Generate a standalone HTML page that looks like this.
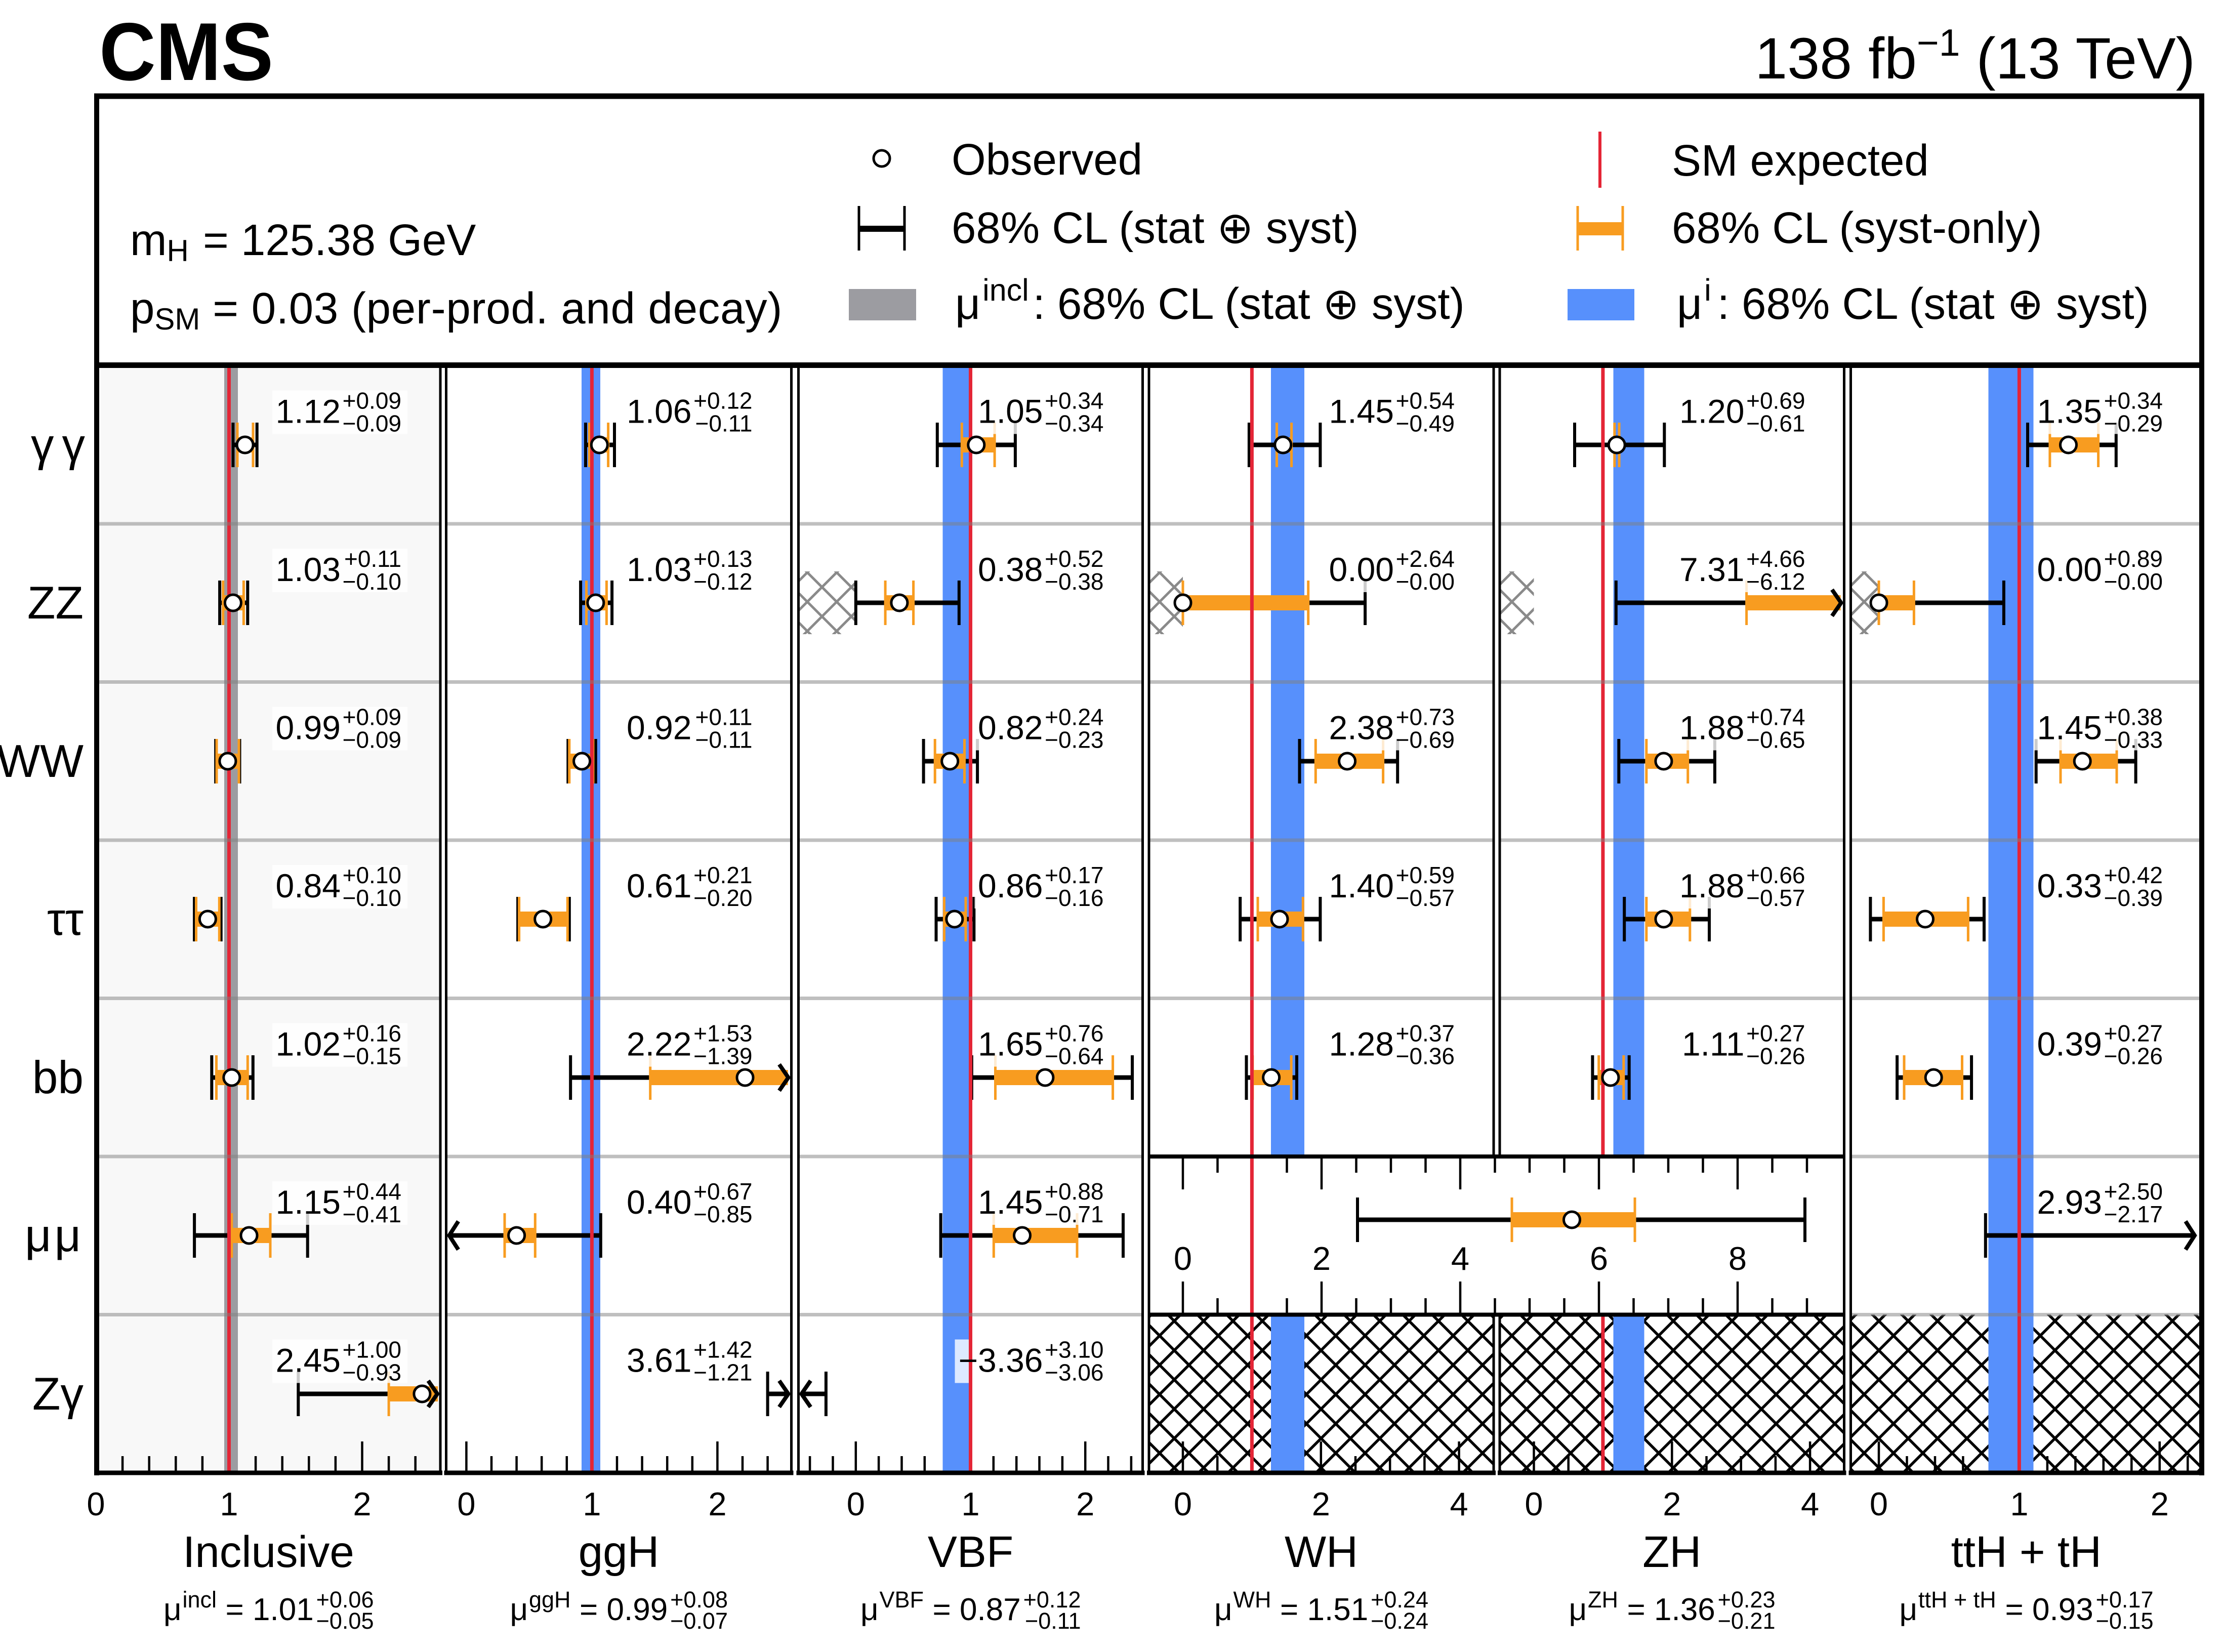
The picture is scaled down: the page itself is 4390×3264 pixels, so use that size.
<!DOCTYPE html>
<html><head><meta charset="utf-8">
<style>
html,body{margin:0;padding:0;background:#fff}
svg{display:block}
text{font-family:"Liberation Sans","DejaVu Sans",sans-serif;fill:#000}
.kl{stroke:#000;stroke-width:9;fill:none}
.kc{stroke:#000;stroke-width:6;fill:none}
.oc{stroke:#f89c20;stroke-width:5;fill:none}
.ob{fill:#f89c20}
.pt{fill:#fff;stroke:#000;stroke-width:5}
.ar{fill:none;stroke:#000;stroke-width:8}
.lb{fill:#fff;fill-opacity:.8}
.tk{stroke:#000;stroke-width:4.5;fill:none}
.sep{stroke:#808080;stroke-opacity:.5;stroke-width:7;fill:none}
.red{stroke:#e42536;stroke-width:7}
.lm{font-size:66px;text-anchor:end}
.ls{font-size:46px;text-anchor:end}
.tl{font-size:65px;text-anchor:middle}
.tt{font-size:87px;text-anchor:middle}
.ya{font-size:91px;text-anchor:end}
.mu{font-size:62px}
.ms{font-size:45px}
.mse{font-size:45px;text-anchor:end}
</style></head><body>
<svg xmlns="http://www.w3.org/2000/svg" width="4390" height="3264" viewBox="0 0 4390 3264">
<defs>
<pattern id="hg" width="58" height="58" patternUnits="userSpaceOnUse">
<path d="M-5,-5L63,63M-5,53L5,63M53,-5L63,5M-5,63L63,-5M-5,5L5,-5M53,63L63,53" stroke="#8a8a8a" stroke-width="5" fill="none"/>
</pattern>
<pattern id="hk" width="58" height="58" patternUnits="userSpaceOnUse">
<path d="M-5,-5L63,63M-5,53L5,63M53,-5L63,5M-5,63L63,-5M-5,5L5,-5M53,63L63,53" stroke="#000" stroke-width="5.5" fill="none"/>
</pattern>
</defs>
<rect x="0" y="0" width="4390" height="3264" fill="#fff"/>
<!-- inclusive background -->
<rect x="191" y="722.5" width="679" height="2187.5" fill="#f8f8f8"/>

<!-- bottom axis ticks -->
<path class="tk" d="
M242.1 2906V2877M294.7 2906V2877M347.3 2906V2877M399.9 2906V2877M505.1 2906V2877M557.7 2906V2877M610.3 2906V2877M662.9 2906V2877M768.1 2906V2877M820.7 2906V2877M452.5 2906V2848M715.5 2906V2848
M971 2906V2877M1020.6 2906V2877M1070.2 2906V2877M1119.8 2906V2877M1219 2906V2877M1268.6 2906V2877M1318.2 2906V2877M1367.8 2906V2877M1467 2906V2877M1516.6 2906V2877M921.4 2906V2848M1169.4 2906V2848M1417.4 2906V2848
M1600.1 2906V2877M1645.5 2906V2877M1736.1 2906V2877M1781.5 2906V2877M1826.8 2906V2877M1872.2 2906V2877M1962.8 2906V2877M2008.2 2906V2877M2053.5 2906V2877M2098.9 2906V2877M2189.5 2906V2877M2234.9 2906V2877M1690.8 2906V2848M1917.5 2906V2848M2144.2 2906V2848
M2405.2 2906V2877M2473.4 2906V2877M2541.6 2906V2877M2678 2906V2877M2746.2 2906V2877M2814.4 2906V2877M2337 2906V2848M2609.8 2906V2848M2882.6 2906V2848
M3098.7 2906V2877M3166.9 2906V2877M3235.1 2906V2877M3371.5 2906V2877M3439.7 2906V2877M3507.9 2906V2877M3030.5 2906V2848M3303.3 2906V2848M3576.1 2906V2848
M3767.5 2906V2877M3823 2906V2877M3878.4 2906V2877M3933.9 2906V2877M4044.9 2906V2877M4100.4 2906V2877M4155.8 2906V2877M4211.3 2906V2877M4322.3 2906V2877M3712 2906V2848M3989.4 2906V2848M4266.8 2906V2848
"/>
<!-- merged VH mumu panel ticks -->
<path class="tk" d="
M2337 2289V2350M2611 2289V2350M2885 2289V2350M3159 2289V2350M3433 2289V2350
M2405.5 2289V2317M2474 2289V2317M2542.5 2289V2317M2679.5 2289V2317M2748 2289V2317M2816.5 2289V2317M2953.5 2289V2317M3022 2289V2317M3090.5 2289V2317M3227.5 2289V2317M3296 2289V2317M3364.5 2289V2317M3501.5 2289V2317M3570 2289V2317
M2337 2594V2532M2611 2594V2532M2885 2594V2532M3159 2594V2532M3433 2594V2532
M2405.5 2594V2565M2474 2594V2565M2542.5 2594V2565M2679.5 2594V2565M2748 2594V2565M2816.5 2594V2565M2953.5 2594V2565M3022 2594V2565M3090.5 2594V2565M3227.5 2594V2565M3296 2594V2565M3364.5 2594V2565M3501.5 2594V2565M3570 2594V2565
"/>

<!-- hatches -->
<rect x="1577.5" y="1129" width="113.3" height="124" fill="url(#hg)"/>
<rect x="2270" y="1129" width="67" height="124" fill="url(#hg)"/>
<rect x="2963" y="1129" width="67.5" height="124" fill="url(#hg)"/>
<rect x="3656.5" y="1129" width="55.5" height="124" fill="url(#hg)"/>
<rect x="2270" y="2597.5" width="681" height="312.5" fill="url(#hk)"/>
<rect x="2963" y="2597.5" width="680.5" height="312.5" fill="url(#hk)"/>
<rect x="3656.5" y="2597.5" width="693.5" height="312.5" fill="url(#hk)"/>

<!-- bands -->
<rect x="443" y="722.5" width="27" height="2187.5" fill="#9c9ca1"/>
<rect x="1149" y="722.5" width="37" height="2187.5" fill="#5790fc"/>
<rect x="1862.5" y="722.5" width="52" height="2187.5" fill="#5790fc"/>
<rect x="2511" y="722.5" width="66" height="1562.5" fill="#5790fc"/>
<rect x="2511" y="2597.5" width="66" height="312.5" fill="#5790fc"/>
<rect x="3187.5" y="722.5" width="61" height="1562.5" fill="#5790fc"/>
<rect x="3187.5" y="2597.5" width="61" height="312.5" fill="#5790fc"/>
<rect x="3928.5" y="722.5" width="89" height="2187.5" fill="#5790fc"/>

<!-- ===== error bars ===== -->
<!-- Inclusive -->
<path class="kl" d="M460.4 879H507.7M434.1 1191H489.3M426.2 1504H473.5M384.1 1816H436.7M418.3 2129H499.8M384.1 2441H607.7M589.3 2754H862"/>
<path class="kc" d="M460.4 835V923M507.7 835V923M434.1 1147V1235M489.3 1147V1235M426.2 1460V1548M473.5 1460V1548M384.1 1772V1860M436.7 1772V1860M418.3 2085V2173M499.8 2085V2173M384.1 2397V2485M607.7 2397V2485M589.3 2710V2798"/>
<rect class="ob" x="469" y="864" width="31" height="30"/>
<rect class="ob" x="440.7" y="1176" width="40.7" height="30"/>
<rect class="ob" x="428" y="1489" width="44" height="30"/>
<rect class="ob" x="387.5" y="1801" width="45.8" height="30"/>
<rect class="ob" x="427.5" y="2114" width="61.8" height="30"/>
<rect class="ob" x="457.8" y="2426" width="76.2" height="30"/>
<rect class="ob" x="768.1" y="2739" width="97" height="30"/>
<path class="oc" d="M469 835V923M500 835V923M440.7 1147V1235M481.4 1147V1235M428 1460V1548M472 1460V1548M387.5 1772V1860M433.3 1772V1860M427.5 2085V2173M489.3 2085V2173M457.8 2397V2485M534 2397V2485M768.1 2710V2798"/>
<polyline class="ar" points="846,2728 864,2754 846,2780"/>

<!-- ggH -->
<path class="kl" d="M1157 879H1214M1147.1 1191H1209.1M1122.3 1504H1176.8M1023.1 1816H1124.8M1127.2 2129H1556M888 2441H1186.8M1516.6 2754H1556"/>
<path class="kc" d="M1157 835V923M1214 835V923M1147.1 1147V1235M1209.1 1147V1235M1122.3 1460V1548M1176.8 1460V1548M1023.1 1772V1860M1124.8 1772V1860M1127.2 2085V2173M1186.8 2397V2485M1516.6 2710V2798"/>
<rect class="ob" x="1164.4" y="864" width="37.2" height="30"/>
<rect class="ob" x="1158.5" y="1176" width="39.9" height="30"/>
<rect class="ob" x="1124.8" y="1489" width="47.1" height="30"/>
<rect class="ob" x="1025.6" y="1801" width="95.7" height="30"/>
<rect class="ob" x="1284.7" y="2114" width="272" height="30"/>
<rect class="ob" x="997" y="2426" width="60.3" height="30"/>
<path class="oc" d="M1164.4 835V923M1201.6 835V923M1158.5 1147V1235M1198.4 1147V1235M1124.8 1460V1548M1171.9 1460V1548M1025.6 1772V1860M1121.3 1772V1860M1284.7 2085V2173M997 2397V2485M1057.3 2397V2485"/>
<polyline class="ar" points="1539.5,2103 1557.5,2129 1539.5,2155"/>
<polyline class="ar" points="1539.5,2728 1557.5,2754 1539.5,2780"/>
<polyline class="ar" points="905.5,2413 887.5,2441 905.5,2469"/>

<!-- VBF -->
<path class="kl" d="M1851.8 879H2005.9M1690.8 1191H1894.8M1824.6 1504H1931.1M1849.5 1816H1924.3M1919.8 2129H2237.1M1858.6 2441H2219M1584 2754H1631.9"/>
<path class="kc" d="M1851.8 835V923M2005.9 835V923M1690.8 1147V1235M1894.8 1147V1235M1824.6 1460V1548M1931.1 1460V1548M1849.5 1772V1860M1924.3 1772V1860M1919.8 2085V2173M2237.1 2085V2173M1858.6 2397V2485M2219 2397V2485M1631.9 2710V2798"/>
<rect class="ob" x="1900.3" y="864" width="64.8" height="30"/>
<rect class="ob" x="1749.1" y="1176" width="55.5" height="30"/>
<rect class="ob" x="1847.2" y="1489" width="58.3" height="30"/>
<rect class="ob" x="1865.4" y="1801" width="42.6" height="30"/>
<rect class="ob" x="1966.5" y="2114" width="232.1" height="30"/>
<rect class="ob" x="1963.3" y="2426" width="164.7" height="30"/>
<path class="oc" d="M1900.3 835V923M1965.1 835V923M1749.1 1147V1235M1804.6 1147V1235M1847.2 1460V1548M1905.5 1460V1548M1865.4 1772V1860M1908 1772V1860M1966.5 2085V2173M2198.6 2085V2173M1963.3 2397V2485M2128 2397V2485"/>
<polyline class="ar" points="1601.5,2728 1583.5,2754 1601.5,2780"/>

<!-- WH -->
<path class="kl" d="M2467.9 879H2608.4M2337 1191H2697.1M2567.5 1504H2761.2M2450.2 1816H2608.4M2462.5 2129H2562"/>
<path class="kc" d="M2467.9 835V923M2608.4 835V923M2697.1 1147V1235M2567.5 1460V1548M2761.2 1460V1548M2450.2 1772V1860M2608.4 1772V1860M2462.5 2085V2173M2562 2085V2173"/>
<rect class="ob" x="2522.5" y="864" width="29.1" height="30"/>
<rect class="ob" x="2337" y="1176" width="247.7" height="30"/>
<rect class="ob" x="2599.3" y="1489" width="133.3" height="30"/>
<rect class="ob" x="2485" y="1801" width="89.3" height="30"/>
<rect class="ob" x="2474.8" y="2114" width="76.3" height="30"/>
<path class="oc" d="M2522.5 835V923M2551.6 835V923M2337 1147V1235M2584.7 1147V1235M2599.3 1460V1548M2732.6 1460V1548M2485 1772V1860M2574.3 1772V1860M2474.8 2085V2173M2551.1 2085V2173"/>

<!-- merged VH mumu -->
<path class="kl" d="M2682 2410H3566"/>
<path class="kc" d="M2682 2366V2454M3566 2366V2454"/>
<rect class="ob" x="2987" y="2395" width="243" height="30"/>
<path class="oc" d="M2987 2366V2454M3230 2366V2454"/>

<!-- ZH -->
<path class="kl" d="M3111 879H3288.3M3192.8 1191H3636M3198.3 1504H3387.9M3209.2 1816H3377M3146.4 2129H3218.7"/>
<path class="kc" d="M3111 835V923M3288.3 835V923M3192.8 1147V1235M3198.3 1460V1548M3387.9 1460V1548M3209.2 1772V1860M3377 1772V1860M3146.4 2085V2173M3218.7 2085V2173"/>
<rect class="ob" x="3189.8" y="864" width="9.2" height="30"/>
<rect class="ob" x="3450.6" y="1176" width="186" height="30"/>
<rect class="ob" x="3252.8" y="1489" width="81.9" height="30"/>
<rect class="ob" x="3252.8" y="1801" width="86" height="30"/>
<rect class="ob" x="3158.7" y="2114" width="49.1" height="30"/>
<path class="oc" d="M3189.8 835V923M3199 835V923M3450.6 1147V1235M3252.8 1460V1548M3334.7 1460V1548M3252.8 1772V1860M3338.8 1772V1860M3158.7 2085V2173M3207.8 2085V2173"/>
<polyline class="ar" points="3619.5,1165 3637.5,1191 3619.5,1217"/>

<!-- ttH -->
<path class="kl" d="M4006 879H4180.8M3712 1191H3958.9M4022.7 1504H4219.6M3695.4 1816H3920M3748.1 2129H3895.1M3922.8 2441H4337"/>
<path class="kc" d="M4006 835V923M4180.8 835V923M3958.9 1147V1235M4022.7 1460V1548M4219.6 1460V1548M3695.4 1772V1860M3920 1772V1860M3748.1 2085V2173M3895.1 2085V2173M3922.8 2397V2485"/>
<rect class="ob" x="4049.9" y="864" width="95.7" height="30"/>
<rect class="ob" x="3712" y="1176" width="69.4" height="30"/>
<rect class="ob" x="4071" y="1489" width="111" height="30"/>
<rect class="ob" x="3721.4" y="1801" width="167" height="30"/>
<rect class="ob" x="3762" y="2114" width="114.5" height="30"/>
<path class="oc" d="M4049.9 835V923M4145.6 835V923M3712 1147V1235M3781.4 1147V1235M4071 1460V1548M4182 1460V1548M3721.4 1772V1860M3888.4 1772V1860M3762 2085V2173M3876.5 2085V2173"/>
<polyline class="ar" points="4318,2413 4336,2441 4318,2469"/>

<!-- label boxes -->
<g class="lb">
<rect x="538" y="771.5" width="267" height="86"/><rect x="538" y="1084" width="267" height="86"/><rect x="538" y="1396.5" width="267" height="86"/><rect x="538" y="1709" width="267" height="86"/><rect x="538" y="2021.5" width="267" height="86"/><rect x="538" y="2334" width="267" height="86"/><rect x="538" y="2646.5" width="267" height="86"/>
<rect x="1231.5" y="771.5" width="267" height="86"/><rect x="1231.5" y="1084" width="267" height="86"/><rect x="1231.5" y="1396.5" width="267" height="86"/><rect x="1231.5" y="1709" width="267" height="86"/><rect x="1231.5" y="2021.5" width="267" height="86"/><rect x="1231.5" y="2334" width="267" height="86"/><rect x="1231.5" y="2646.5" width="267" height="86"/>
<rect x="1925.5" y="771.5" width="267" height="86"/><rect x="1925.5" y="1084" width="267" height="86"/><rect x="1925.5" y="1396.5" width="267" height="86"/><rect x="1925.5" y="1709" width="267" height="86"/><rect x="1925.5" y="2021.5" width="267" height="86"/><rect x="1925.5" y="2334" width="267" height="86"/><rect x="1886.5" y="2646.5" width="306" height="86"/>
<rect x="2619" y="771.5" width="267" height="86"/><rect x="2619" y="1084" width="267" height="86"/><rect x="2619" y="1396.5" width="267" height="86"/><rect x="2619" y="1709" width="267" height="86"/><rect x="2619" y="2021.5" width="267" height="86"/>
<rect x="3311.5" y="771.5" width="267" height="86"/><rect x="3311.5" y="1084" width="267" height="86"/><rect x="3311.5" y="1396.5" width="267" height="86"/><rect x="3311.5" y="1709" width="267" height="86"/><rect x="3311.5" y="2021.5" width="267" height="86"/>
<rect x="4018" y="771.5" width="267" height="86"/><rect x="4018" y="1084" width="267" height="86"/><rect x="4018" y="1396.5" width="267" height="86"/><rect x="4018" y="1709" width="267" height="86"/><rect x="4018" y="2021.5" width="267" height="86"/><rect x="4018" y="2334" width="267" height="86"/>
</g>

<!-- SM lines -->
<line class="red" x1="452.5" y1="722.5" x2="452.5" y2="2910"/>
<line class="red" x1="1169.4" y1="722.5" x2="1169.4" y2="2910"/>
<line class="red" x1="1917.5" y1="722.5" x2="1917.5" y2="2910"/>
<line class="red" x1="2473.4" y1="722.5" x2="2473.4" y2="2910"/>
<line class="red" x1="3166.9" y1="722.5" x2="3166.9" y2="2285"/>
<line class="red" x1="3166.9" y1="2597.5" x2="3166.9" y2="2910"/>
<line class="red" x1="3989.4" y1="722.5" x2="3989.4" y2="2910"/>

<!-- row separators -->
<path class="sep" d="
M191 1035H870M191 1347.5H870M191 1660H870M191 1972.5H870M191 2285H870M191 2597.5H870
M881.5 1035H1563.5M881.5 1347.5H1563.5M881.5 1660H1563.5M881.5 1972.5H1563.5M881.5 2285H1563.5M881.5 2597.5H1563.5
M1577.5 1035H2257.5M1577.5 1347.5H2257.5M1577.5 1660H2257.5M1577.5 1972.5H2257.5M1577.5 2285H2257.5M1577.5 2597.5H2257.5
M2270 1035H2951M2270 1347.5H2951M2270 1660H2951M2270 1972.5H2951
M2963 1035H3643.5M2963 1347.5H3643.5M2963 1660H3643.5M2963 1972.5H3643.5
M3656.5 1035H4350M3656.5 1347.5H4350M3656.5 1660H4350M3656.5 1972.5H4350M3656.5 2285H4350M3656.5 2597.5H4350
"/>

<!-- markers -->
<g class="pt">
<circle cx="484.1" cy="879" r="16"/><circle cx="460.4" cy="1191" r="16"/><circle cx="449.9" cy="1504" r="16"/><circle cx="410.4" cy="1816" r="16"/><circle cx="457.8" cy="2129" r="16"/><circle cx="492" cy="2441" r="16"/><circle cx="833.9" cy="2754" r="16"/>
<circle cx="1184.3" cy="879" r="16"/><circle cx="1176.8" cy="1191" r="16"/><circle cx="1149.6" cy="1504" r="16"/><circle cx="1072.7" cy="1816" r="16"/><circle cx="1472" cy="2129" r="16"/><circle cx="1020.6" cy="2441" r="16"/>
<circle cx="1928.8" cy="879" r="16"/><circle cx="1776.9" cy="1191" r="16"/><circle cx="1876.7" cy="1504" r="16"/><circle cx="1885.8" cy="1816" r="16"/><circle cx="2064.9" cy="2129" r="16"/><circle cx="2019.5" cy="2441" r="16"/>
<circle cx="2534.8" cy="879" r="16"/><circle cx="2337" cy="1191" r="16"/><circle cx="2661.6" cy="1504" r="16"/><circle cx="2528" cy="1816" r="16"/><circle cx="2511.6" cy="2129" r="16"/>
<circle cx="3105.5" cy="2410" r="16"/>
<circle cx="3194.2" cy="879" r="16"/><circle cx="3286.9" cy="1504" r="16"/><circle cx="3286.9" cy="1816" r="16"/><circle cx="3181.9" cy="2129" r="16"/>
<circle cx="4086.5" cy="879" r="16"/><circle cx="3712" cy="1191" r="16"/><circle cx="4114.2" cy="1504" r="16"/><circle cx="3803.5" cy="1816" r="16"/><circle cx="3820.2" cy="2129" r="16"/>
</g>

<!-- value labels -->
<g class="lm">
<text x="673" y="835.5">1.12</text><text x="673" y="1148">1.03</text><text x="673" y="1460.5">0.99</text><text x="673" y="1773">0.84</text><text x="673" y="2085.5">1.02</text><text x="673" y="2398">1.15</text><text x="673" y="2710.5">2.45</text>
<text x="1366.5" y="835.5">1.06</text><text x="1366.5" y="1148">1.03</text><text x="1366.5" y="1460.5">0.92</text><text x="1366.5" y="1773">0.61</text><text x="1366.5" y="2085.5">2.22</text><text x="1366.5" y="2398">0.40</text><text x="1366.5" y="2710.5">3.61</text>
<text x="2060.5" y="835.5">1.05</text><text x="2060.5" y="1148">0.38</text><text x="2060.5" y="1460.5">0.82</text><text x="2060.5" y="1773">0.86</text><text x="2060.5" y="2085.5">1.65</text><text x="2060.5" y="2398">1.45</text><text x="2060.5" y="2710.5">−3.36</text>
<text x="2754" y="835.5">1.45</text><text x="2754" y="1148">0.00</text><text x="2754" y="1460.5">2.38</text><text x="2754" y="1773">1.40</text><text x="2754" y="2085.5">1.28</text>
<text x="3446.5" y="835.5">1.20</text><text x="3446.5" y="1148">7.31</text><text x="3446.5" y="1460.5">1.88</text><text x="3446.5" y="1773">1.88</text><text x="3446.5" y="2085.5">1.11</text>
<text x="4153" y="835.5">1.35</text><text x="4153" y="1148">0.00</text><text x="4153" y="1460.5">1.45</text><text x="4153" y="1773">0.33</text><text x="4153" y="2085.5">0.39</text><text x="4153" y="2398">2.93</text>
</g>
<g class="ls">
<text x="793" y="807.5">+0.09</text><text x="793" y="852.5">−0.09</text>
<text x="793" y="1120">+0.11</text><text x="793" y="1165">−0.10</text>
<text x="793" y="1432.5">+0.09</text><text x="793" y="1477.5">−0.09</text>
<text x="793" y="1745">+0.10</text><text x="793" y="1790">−0.10</text>
<text x="793" y="2057.5">+0.16</text><text x="793" y="2102.5">−0.15</text>
<text x="793" y="2370">+0.44</text><text x="793" y="2415">−0.41</text>
<text x="793" y="2682.5">+1.00</text><text x="793" y="2727.5">−0.93</text>

<text x="1486.5" y="807.5">+0.12</text><text x="1486.5" y="852.5">−0.11</text>
<text x="1486.5" y="1120">+0.13</text><text x="1486.5" y="1165">−0.12</text>
<text x="1486.5" y="1432.5">+0.11</text><text x="1486.5" y="1477.5">−0.11</text>
<text x="1486.5" y="1745">+0.21</text><text x="1486.5" y="1790">−0.20</text>
<text x="1486.5" y="2057.5">+1.53</text><text x="1486.5" y="2102.5">−1.39</text>
<text x="1486.5" y="2370">+0.67</text><text x="1486.5" y="2415">−0.85</text>
<text x="1486.5" y="2682.5">+1.42</text><text x="1486.5" y="2727.5">−1.21</text>

<text x="2180.5" y="807.5">+0.34</text><text x="2180.5" y="852.5">−0.34</text>
<text x="2180.5" y="1120">+0.52</text><text x="2180.5" y="1165">−0.38</text>
<text x="2180.5" y="1432.5">+0.24</text><text x="2180.5" y="1477.5">−0.23</text>
<text x="2180.5" y="1745">+0.17</text><text x="2180.5" y="1790">−0.16</text>
<text x="2180.5" y="2057.5">+0.76</text><text x="2180.5" y="2102.5">−0.64</text>
<text x="2180.5" y="2370">+0.88</text><text x="2180.5" y="2415">−0.71</text>
<text x="2180.5" y="2682.5">+3.10</text><text x="2180.5" y="2727.5">−3.06</text>

<text x="2874" y="807.5">+0.54</text><text x="2874" y="852.5">−0.49</text>
<text x="2874" y="1120">+2.64</text><text x="2874" y="1165">−0.00</text>
<text x="2874" y="1432.5">+0.73</text><text x="2874" y="1477.5">−0.69</text>
<text x="2874" y="1745">+0.59</text><text x="2874" y="1790">−0.57</text>
<text x="2874" y="2057.5">+0.37</text><text x="2874" y="2102.5">−0.36</text>

<text x="3566.5" y="807.5">+0.69</text><text x="3566.5" y="852.5">−0.61</text>
<text x="3566.5" y="1120">+4.66</text><text x="3566.5" y="1165">−6.12</text>
<text x="3566.5" y="1432.5">+0.74</text><text x="3566.5" y="1477.5">−0.65</text>
<text x="3566.5" y="1745">+0.66</text><text x="3566.5" y="1790">−0.57</text>
<text x="3566.5" y="2057.5">+0.27</text><text x="3566.5" y="2102.5">−0.26</text>

<text x="4273" y="807.5">+0.34</text><text x="4273" y="852.5">−0.29</text>
<text x="4273" y="1120">+0.89</text><text x="4273" y="1165">−0.00</text>
<text x="4273" y="1432.5">+0.38</text><text x="4273" y="1477.5">−0.33</text>
<text x="4273" y="1745">+0.42</text><text x="4273" y="1790">−0.39</text>
<text x="4273" y="2057.5">+0.27</text><text x="4273" y="2102.5">−0.26</text>
<text x="4273" y="2370">+2.50</text><text x="4273" y="2415">−2.17</text>
</g>

<!-- frames -->
<path stroke="#000" stroke-width="5" fill="none" d="
M870 722.5V2910
M881.5 722.5V2910M1563.5 722.5V2910
M1577.5 722.5V2910M2257.5 722.5V2910
M2270 722.5V2910M2951 722.5V2285M2951 2597.5V2910
M2963 722.5V2285M2963 2597.5V2910M3643.5 722.5V2910
M3656.5 722.5V2910"/>
<path stroke="#000" stroke-width="9" fill="none" d="M186 2910H874M877.5 2910H1567.5M1573.5 2910H2261.5M2266 2910H2955M2959 2910H3647.5M3652.5 2910H4355"/>
<path stroke="#000" stroke-width="8" fill="none" d="M2268 2285H3645.5M2268 2597.5H3645.5"/>
<path stroke="#000" stroke-width="10" fill="none" d="M191 185V2915M4350 185V2915"/>
<path stroke="#000" stroke-width="11" fill="none" d="M186 190H4355M186 721.5H4355"/>

<!-- merged tick labels -->
<g class="tl">
<text x="2337" y="2509">0</text><text x="2611" y="2509">2</text><text x="2885" y="2509">4</text><text x="3159" y="2509">6</text><text x="3433" y="2509">8</text>
</g>

<!-- y-axis labels -->
<g class="ya">
<text x="168" y="910">γ<tspan dx="16">γ</tspan></text>
<text x="165" y="1222">ZZ</text>
<text x="165" y="1535">WW</text>
<text x="165" y="1847">ττ</text>
<text x="165" y="2160">bb</text>
<text x="160" y="2472">μ<tspan dx="6">μ</tspan></text>
<text x="165" y="2785">Zγ</text>
</g>

<!-- bottom tick labels -->
<g class="tl">
<text x="189.5" y="2994">0</text><text x="452.5" y="2994">1</text><text x="715.5" y="2994">2</text>
<text x="921.4" y="2994">0</text><text x="1169.4" y="2994">1</text><text x="1417.4" y="2994">2</text>
<text x="1690.8" y="2994">0</text><text x="1917.5" y="2994">1</text><text x="2144.2" y="2994">2</text>
<text x="2337" y="2994">0</text><text x="2609.8" y="2994">2</text><text x="2882.6" y="2994">4</text>
<text x="3030.5" y="2994">0</text><text x="3303.3" y="2994">2</text><text x="3576.1" y="2994">4</text>
<text x="3712" y="2994">0</text><text x="3989.4" y="2994">1</text><text x="4266.8" y="2994">2</text>
</g>

<!-- panel titles -->
<g class="tt">
<text x="530.5" y="3096">Inclusive</text>
<text x="1222.5" y="3096">ggH</text>
<text x="1917.5" y="3096">VBF</text>
<text x="2610.5" y="3096">WH</text>
<text x="3303.25" y="3096">ZH</text>
<text x="4003.25" y="3096">ttH + tH</text>
</g>

<!-- mu lines -->
<text class="mu" x="323" y="3201">μ</text><text class="ms" x="360.5" y="3176">incl</text><text class="mu" x="445.5" y="3201">=</text><text class="mu" x="499" y="3201">1.01</text><text class="mse" x="738.5" y="3176">+0.06</text><text class="mse" x="738.5" y="3218">−0.05</text>
<text class="mu" x="1007.5" y="3201">μ</text><text class="ms" x="1045" y="3176">ggH</text><text class="mu" x="1145" y="3201">=</text><text class="mu" x="1198.5" y="3201">0.99</text><text class="mse" x="1438" y="3176">+0.08</text><text class="mse" x="1438" y="3218">−0.07</text>
<text class="mu" x="1700" y="3201">μ</text><text class="ms" x="1737.5" y="3176">VBF</text><text class="mu" x="1842.5" y="3201">=</text><text class="mu" x="1896" y="3201">0.87</text><text class="mse" x="2135.5" y="3176">+0.12</text><text class="mse" x="2135.5" y="3218">−0.11</text>
<text class="mu" x="2399" y="3201">μ</text><text class="ms" x="2436.5" y="3176">WH</text><text class="mu" x="2529" y="3201">=</text><text class="mu" x="2582.5" y="3201">1.51</text><text class="mse" x="2822" y="3176">+0.24</text><text class="mse" x="2822" y="3218">−0.24</text>
<text class="mu" x="3099.5" y="3201">μ</text><text class="ms" x="3137" y="3176">ZH</text><text class="mu" x="3214.5" y="3201">=</text><text class="mu" x="3268" y="3201">1.36</text><text class="mse" x="3507.5" y="3176">+0.23</text><text class="mse" x="3507.5" y="3218">−0.21</text>
<text class="mu" x="3752.5" y="3201">μ</text><text class="ms" x="3790" y="3176">ttH + tH</text><text class="mu" x="3961.5" y="3201">=</text><text class="mu" x="4015" y="3201">0.93</text><text class="mse" x="4254.5" y="3176">+0.17</text><text class="mse" x="4254.5" y="3218">−0.15</text>

<!-- legend graphics -->
<circle class="pt" cx="1742" cy="313" r="16"/>
<path stroke="#000" stroke-width="12" d="M1697 452H1787"/>
<path stroke="#000" stroke-width="5" d="M1697 407V495M1787 407V495"/>
<rect x="1677" y="571" width="133" height="62" fill="#9c9ca1"/>
<line x1="3161" y1="260" x2="3161" y2="371" stroke="#e42536" stroke-width="6"/>
<rect x="3115" y="439" width="93" height="26" fill="#f89c20"/>
<path stroke="#f89c20" stroke-width="5" d="M3117 407V495M3206 407V495"/>
<rect x="3097" y="571" width="132" height="62" fill="#5790fc"/>

<!-- legend text -->
<text x="257" y="504" font-size="87">m<tspan font-size="60" dy="12">H</tspan><tspan dy="-12" dx="4"> = 125.38 GeV</tspan></text>
<text x="257" y="639" font-size="87">p<tspan font-size="60" dy="12">SM</tspan><tspan dy="-12" textLength="1150" lengthAdjust="spacing"> = 0.03 (per-prod. and decay)</tspan></text>
<text x="1880" y="345" font-size="87">Observed</text>
<text x="1880" y="480" font-size="87">68% CL (stat ⊕ syst)</text>
<text x="1887" y="630" font-size="87">μ<tspan font-size="61" dy="-36" dx="4">incl</tspan><tspan dy="36" dx="8">: 68% CL (stat ⊕ syst)</tspan></text>
<text x="3303" y="347" font-size="87">SM expected</text>
<text x="3303" y="480" font-size="87">68% CL (syst-only)</text>
<text x="3313" y="630" font-size="87">μ<tspan font-size="61" dy="-36" dx="4">i</tspan><tspan dy="36" dx="12">: 68% CL (stat ⊕ syst)</tspan></text>

<!-- header -->
<text x="196" y="158" font-size="162" font-weight="bold" textLength="344" lengthAdjust="spacingAndGlyphs">CMS</text>
<text x="4337" y="155" font-size="115" text-anchor="end">138 fb<tspan font-size="75" dy="-45">−1</tspan><tspan dy="45"> (13 TeV)</tspan></text>
</svg>
</body></html>
